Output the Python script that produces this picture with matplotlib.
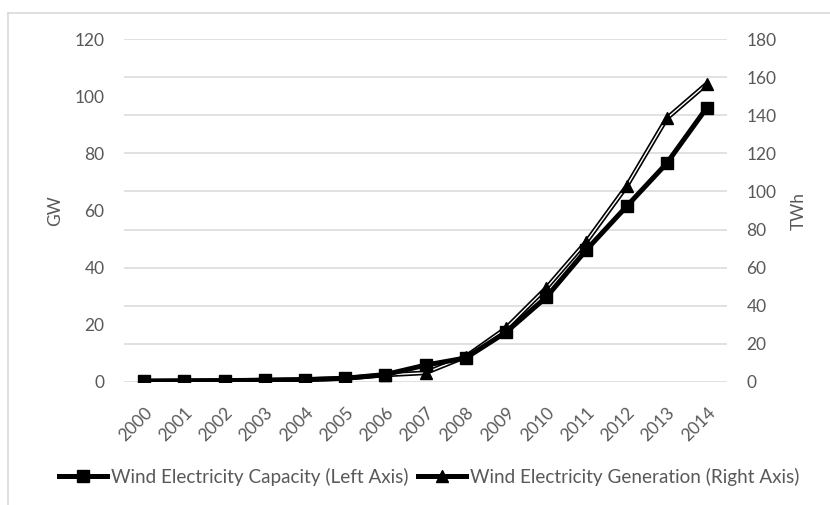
import matplotlib
matplotlib.use("Agg")
import matplotlib.pyplot as plt
from matplotlib.lines import Line2D
import numpy as np

years = ["2000", "2001", "2002", "2003", "2004", "2005", "2006", "2007",
         "2008", "2009", "2010", "2011", "2012", "2013", "2014"]
capacity_gw = [0.3, 0.4, 0.5, 0.6, 0.8, 1.3, 2.6, 5.9, 8.4, 17.4, 29.6, 46.2, 61.4, 76.5, 96.0]
generation_twh = [0.5, 0.6, 0.7, 1.0, 1.3, 1.9, 3.7, 4.8, 13.3, 28.2, 49.2, 73.6, 102.6, 138.3, 156.5]
left_ticks = [0, 20, 40, 60, 80, 100, 120]
right_ticks = [0, 20, 40, 60, 80, 100, 120, 140, 160, 180]

plt.rcParams['font.family'] = ['Lato', 'DejaVu Sans']
TXT = '#595959'
GRID = '#d9d9d9'
FS = 12.5
LFS = 13.6

W, H = 830, 505
fig = plt.figure(figsize=(W / 100, H / 100), dpi=100)

# chart border (only top & left visible in the crop)
fig.add_artist(Line2D([8 / W, 8 / W], [0, 1 - 13 / H], color=GRID, lw=1.2, transform=fig.transFigure))
fig.add_artist(Line2D([8 / W, 1], [1 - 13 / H, 1 - 13 / H], color=GRID, lw=1.2, transform=fig.transFigure))

x0, x1 = 124, 727
y0, y1 = 382, 39
ax = fig.add_axes([x0 / W, 1 - y0 / H, (x1 - x0) / W, (y0 - y1) / H])
ax2 = ax.twinx()

x = np.arange(len(years))

# generation (right axis): double line (black outline, white core)
ax2.plot(x, generation_twh, color='black', lw=3.4, solid_joinstyle='round', zorder=2)
ax2.plot(x, generation_twh, color='white', lw=1.0, solid_joinstyle='round', zorder=3)
ax2.plot(x, generation_twh, ls='none', marker='^', ms=8.5, color='black', zorder=4)

# capacity (left axis) on top
ax.set_zorder(ax2.get_zorder() + 1)
ax.patch.set_visible(False)
ax.plot(x, capacity_gw, color='black', lw=3.6, marker='s', ms=8, solid_joinstyle='round', zorder=3)

ax.set_xlim(-0.5, len(years) - 0.5)
ax.set_ylim(0, 120)
ax2.set_ylim(0, 180)
ax.set_yticks(left_ticks)
ax2.set_yticks(right_ticks)
ax.set_xticks(x)
ax.set_xticklabels(years, rotation=45, ha='right', va='top', rotation_mode='anchor')

for t in right_ticks:
    ax2.axhline(t, color=GRID, lw=1.1, zorder=0)

for a in (ax, ax2):
    for s in a.spines.values():
        s.set_visible(False)
    a.tick_params(length=0, colors=TXT, labelsize=FS)
ax.tick_params(axis='y', pad=14)
ax2.tick_params(axis='y', pad=14)
ax.tick_params(axis='x', pad=16)

ax.set_ylabel('GW', color=TXT, fontsize=FS)
ax.yaxis.set_label_coords(-(124 - 63) / (x1 - x0), 0.5)
ax2.set_ylabel('TWh', color=TXT, fontsize=FS)
ax2.yaxis.set_label_coords(1 + (791 - 727) / (x1 - x0), 0.5)

handles = [
    Line2D([], [], color='black', lw=3.6, marker='s', ms=8),
    Line2D([], [], color='black', lw=3.6, marker='^', ms=8.5),
]
labels = ['Wind Electricity Capacity (Left Axis)', 'Wind Electricity Generation (Right Axis)']
leg = fig.legend(handles, labels, loc='center', bbox_to_anchor=(429 / W, 1 - 477 / H),
                 ncol=2, frameon=False, fontsize=LFS, handlelength=2.55, handletextpad=0.2,
                 columnspacing=0.5, borderaxespad=0)
for t in leg.get_texts():
    t.set_color(TXT)

fig.savefig('out.png', dpi=100)
